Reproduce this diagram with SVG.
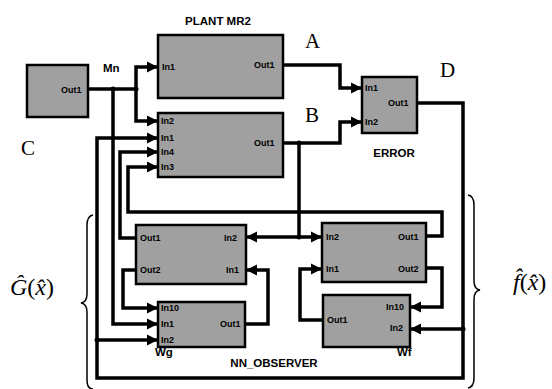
<svg xmlns="http://www.w3.org/2000/svg" width="552" height="389" viewBox="0 0 552 389">
<defs>
<marker id="ah" markerUnits="userSpaceOnUse" markerWidth="12" markerHeight="12" refX="11" refY="6" orient="auto">
<path d="M0,0.5 L11,6 L0,11.5 z" fill="#000"/>
</marker>
<style>
.blk{fill:#a0a0a0;stroke:#000;stroke-width:2.5}
.pt{font-family:"Liberation Sans",Arial,sans-serif;font-weight:bold;font-size:9px;fill:#000}
.lb{font-family:"Liberation Sans",Arial,sans-serif;font-weight:bold;font-size:11.5px;fill:#000}
.big{font-family:"Liberation Serif","Times New Roman",serif;font-size:21px;fill:#000}
.math{font-family:"Liberation Serif","Times New Roman",serif;font-size:24px;fill:#000}
.w{fill:none;stroke:#000;stroke-width:3.5;stroke-linejoin:miter}
.wa{fill:none;stroke:#000;stroke-width:3.5;marker-end:url(#ah)}
.br{fill:none;stroke:#000;stroke-width:1.5}
</style>
</defs>
<rect width="552" height="389" fill="#fff"/>

<g id="connectors">
<path class="w" d="M88,89 H136"/>
<path class="wa" d="M136,89 V67 H158"/>
<path class="wa" d="M136,89 V121 H158"/>
<path class="wa" d="M113,89 V324 H158"/>
<path class="wa" d="M283,65 H340 V88 H362"/>
<path class="wa" d="M283,143 H340 V122 H362"/>
<path class="w" d="M299,143 V237"/>
<path class="wa" d="M299,237 H246"/>
<path class="wa" d="M299,237 H322"/>
<path class="wa" d="M417,103 H463 V378 H97 V138 H158"/>
<path class="wa" d="M463,329 H410"/>
<path class="wa" d="M97,340 H158"/>
<path class="wa" d="M426,236 H442 V212 H128 V167 H158"/>
<path class="wa" d="M136,238 H120 V152 H158"/>
<path class="wa" d="M426,268 H442 V307 H410"/>
<path class="wa" d="M323,320 H300 V269 H322"/>
<path class="wa" d="M245,324 H268 V270 H246"/>
<path class="wa" d="M136,270 H123 V308 H158"/>
<circle cx="113" cy="89" r="2.5"/>
<circle cx="136" cy="89" r="2.5"/>
<circle cx="299" cy="143" r="2.5"/>
<circle cx="299" cy="237" r="2.5"/>
<circle cx="463" cy="329" r="2.5"/>
<circle cx="97" cy="340" r="2.5"/>
</g>

<g id="source">
<rect class="blk" x="27" y="65" width="61" height="52"/>
<text class="pt" x="61" y="93">Out1</text>
</g>
<text class="lb" x="103" y="72">Mn</text>
<text class="big" x="21" y="155">C</text>

<g id="plant">
<rect class="blk" x="158" y="35" width="125" height="63"/>
<text class="pt" x="162" y="70">In1</text>
<text class="pt" x="254" y="68">Out1</text>
<text class="lb" x="218" y="25" text-anchor="middle">PLANT MR2</text>
</g>
<text class="big" x="305" y="48">A</text>

<g id="model">
<rect class="blk" x="158" y="113" width="125" height="64"/>
<text class="pt" x="161" y="124">In2</text>
<text class="pt" x="161" y="141">In1</text>
<text class="pt" x="161" y="155">In4</text>
<text class="pt" x="161" y="170">In3</text>
<text class="pt" x="254" y="146">Out1</text>
</g>
<text class="big" x="305" y="122">B</text>

<g id="error">
<rect class="blk" x="362" y="77" width="55" height="56"/>
<text class="pt" x="365" y="91">In1</text>
<text class="pt" x="388" y="106">Out1</text>
<text class="pt" x="365" y="125">In2</text>
<text class="lb" x="394" y="157" text-anchor="middle">ERROR</text>
</g>
<text class="big" x="440" y="77">D</text>

<g id="nn_g">
<rect class="blk" x="136" y="225" width="110" height="59"/>
<text class="pt" x="140" y="241">Out1</text>
<text class="pt" x="224" y="241">In2</text>
<text class="pt" x="140" y="273">Out2</text>
<text class="pt" x="226" y="273">In1</text>
</g>

<g id="Wg">
<rect class="blk" x="158" y="302" width="87" height="45"/>
<text class="pt" x="161" y="311">In10</text>
<text class="pt" x="161" y="327">In1</text>
<text class="pt" x="161" y="343">In2</text>
<text class="pt" x="220" y="327">Out1</text>
<text class="lb" x="155" y="356">Wg</text>
</g>

<g id="nn_f">
<rect class="blk" x="322" y="223" width="104" height="59"/>
<text class="pt" x="326" y="240">In2</text>
<text class="pt" x="398" y="240">Out1</text>
<text class="pt" x="326" y="272">In1</text>
<text class="pt" x="398" y="272">Out2</text>
</g>

<g id="Wf">
<rect class="blk" x="323" y="295" width="87" height="52"/>
<text class="pt" x="386" y="310">In10</text>
<text class="pt" x="327" y="323">Out1</text>
<text class="pt" x="390" y="331">In2</text>
<text class="lb" x="397" y="356">Wf</text>
</g>

<text class="lb" x="274" y="367" text-anchor="middle">NN_OBSERVER</text>

<path class="br" d="M93,215 Q87,216 87,225 V294 Q87,302 81,303 Q87,304 87,312 V380 Q87,389 93,389"/>
<path class="br" d="M468,195 Q474,196 474,205 V281 Q474,289 480,290 Q474,291 474,299 V378 Q474,387 468,388"/>

<text class="math" x="10" y="295"><tspan font-style="italic">Ĝ</tspan>(<tspan font-style="italic">x̂</tspan>)</text>
<text class="math" x="513" y="290"><tspan font-style="italic">f̂</tspan>(<tspan font-style="italic">x̂</tspan>)</text>
</svg>
